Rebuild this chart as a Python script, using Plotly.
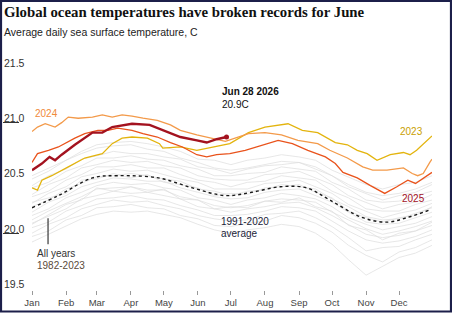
import plotly.graph_objects as go

# ---------------- data ----------------
month_days = [0, 31, 59, 90, 120, 151, 181, 212, 243, 273, 304, 334]
month_labels = ["Jan", "Feb", "Mar", "Apr", "May", "Jun", "Jul", "Aug", "Sep", "Oct", "Nov", "Dec"]

gray_days = [0, 15, 31, 45, 59, 74, 90, 105, 120, 135, 151, 166, 181, 196, 212, 227, 243, 258, 273, 288, 304, 319, 334, 349, 364]
gray_years = [
    [19.88, 19.95, 20.02, 20.09, 20.13, 20.16, 20.15, 20.16, 20.13, 20.10, 20.04, 19.99, 19.96, 19.99, 20.01, 20.04, 20.02, 19.96, 19.86, 19.72, 19.58, 19.66, 19.74, 19.78, 19.85],
    [19.93, 19.98, 20.08, 20.12, 20.19, 20.20, 20.22, 20.19, 20.18, 20.12, 20.09, 20.03, 20.02, 20.05, 20.07, 20.12, 20.10, 20.05, 19.97, 19.85, 19.76, 19.70, 19.79, 19.83, 19.90],
    [19.96, 20.04, 20.10, 20.18, 20.22, 20.26, 20.24, 20.25, 20.21, 20.18, 20.12, 20.09, 20.07, 20.08, 20.13, 20.14, 20.16, 20.10, 20.02, 19.92, 19.80, 19.83, 19.84, 19.90, 19.95],
    [20.01, 20.06, 20.16, 20.21, 20.27, 20.28, 20.30, 20.27, 20.26, 20.21, 20.17, 20.12, 20.12, 20.13, 20.16, 20.20, 20.19, 20.16, 20.07, 19.98, 19.90, 19.87, 19.89, 19.93, 19.99],
    [20.05, 20.11, 20.18, 20.27, 20.30, 20.34, 20.32, 20.33, 20.30, 20.27, 20.20, 20.18, 20.15, 20.18, 20.20, 20.23, 20.24, 20.19, 20.12, 20.04, 19.95, 19.92, 19.94, 19.98, 20.03],
    [20.08, 20.16, 20.23, 20.29, 20.36, 20.37, 20.38, 20.35, 20.35, 20.29, 20.26, 20.21, 20.19, 20.21, 20.25, 20.27, 20.26, 20.24, 20.15, 20.08, 20.00, 19.95, 19.98, 20.02, 20.07],
    [20.12, 20.18, 20.28, 20.33, 20.39, 20.42, 20.40, 20.41, 20.37, 20.35, 20.28, 20.26, 20.22, 20.26, 20.28, 20.32, 20.30, 20.27, 20.20, 20.10, 20.04, 19.99, 20.02, 20.05, 20.11],
    [20.15, 20.24, 20.30, 20.38, 20.42, 20.46, 20.45, 20.43, 20.43, 20.37, 20.33, 20.29, 20.27, 20.28, 20.33, 20.35, 20.36, 20.30, 20.24, 20.15, 20.06, 20.04, 20.05, 20.10, 20.15],
    [20.20, 20.26, 20.36, 20.41, 20.47, 20.48, 20.50, 20.48, 20.45, 20.43, 20.36, 20.34, 20.30, 20.34, 20.35, 20.40, 20.38, 20.36, 20.27, 20.20, 20.11, 20.08, 20.09, 20.14, 20.19],
    [20.23, 20.32, 20.38, 20.47, 20.50, 20.54, 20.52, 20.53, 20.49, 20.45, 20.42, 20.36, 20.36, 20.36, 20.41, 20.42, 20.44, 20.38, 20.32, 20.22, 20.16, 20.10, 20.14, 20.17, 20.23],
    [20.29, 20.34, 20.44, 20.49, 20.56, 20.56, 20.58, 20.55, 20.55, 20.49, 20.44, 20.42, 20.38, 20.42, 20.43, 20.48, 20.46, 20.44, 20.34, 20.28, 20.18, 20.16, 20.16, 20.22, 20.26],
    [20.31, 20.40, 20.46, 20.55, 20.58, 20.62, 20.60, 20.61, 20.57, 20.55, 20.48, 20.45, 20.44, 20.44, 20.49, 20.50, 20.52, 20.46, 20.40, 20.30, 20.24, 20.18, 20.22, 20.24, 20.31],
    [20.37, 20.42, 20.52, 20.57, 20.64, 20.64, 20.66, 20.63, 20.62, 20.57, 20.54, 20.48, 20.48, 20.50, 20.51, 20.56, 20.54, 20.52, 20.42, 20.36, 20.26, 20.24, 20.25, 20.30, 20.34],
    [20.39, 20.48, 20.54, 20.63, 20.66, 20.70, 20.68, 20.68, 20.65, 20.63, 20.56, 20.54, 20.50, 20.54, 20.57, 20.58, 20.60, 20.54, 20.48, 20.38, 20.32, 20.26, 20.30, 20.33, 20.40],
    [20.48, 20.55, 20.62, 20.68, 20.73, 20.75, 20.76, 20.72, 20.70, 20.64, 20.60, 20.55, 20.53, 20.55, 20.58, 20.61, 20.60, 20.56, 20.48, 20.40, 20.33, 20.30, 20.32, 20.36, 20.42],
    [20.45, 20.52, 20.62, 20.70, 20.76, 20.78, 20.79, 20.77, 20.74, 20.70, 20.63, 20.62, 20.58, 20.62, 20.64, 20.67, 20.65, 20.62, 20.53, 20.47, 20.40, 20.36, 20.40, 20.42, 20.48],
    [20.24, 20.28, 20.32, 20.44, 20.45, 20.50, 20.46, 20.49, 20.42, 20.40, 20.37, 20.30, 20.32, 20.31, 20.37, 20.38, 20.40, 20.33, 20.28, 20.16, 20.10, 20.06, 20.10, 20.12, 20.20],
    [20.04, 20.13, 20.22, 20.26, 20.37, 20.34, 20.38, 20.33, 20.36, 20.27, 20.26, 20.18, 20.20, 20.19, 20.25, 20.24, 20.28, 20.20, 20.16, 20.03, 19.99, 19.90, 19.96, 19.98, 20.06],
]

avg_days = [0, 24, 55, 78, 115, 146, 176, 200, 226, 250, 271, 301, 323, 341, 362]
avg_vals = [20.19, 20.30, 20.46, 20.48, 20.46, 20.37, 20.30, 20.33, 20.38, 20.37, 20.26, 20.10, 20.06, 20.10, 20.17]

y2023_days = [0, 5, 9, 18, 33, 48, 64, 73, 82, 91, 105, 116, 119, 135, 150, 165, 180, 197, 212, 233, 246, 260, 276, 287, 296, 305, 314, 326, 338, 344, 350, 364]
y2023_vals = [20.37, 20.35, 20.44, 20.48, 20.56, 20.64, 20.68, 20.77, 20.82, 20.83, 20.82, 20.77, 20.73, 20.74, 20.71, 20.74, 20.77, 20.87, 20.92, 20.95, 20.89, 20.87, 20.78, 20.76, 20.71, 20.68, 20.62, 20.67, 20.69, 20.67, 20.71, 20.84]

y2024_days = [0, 5, 12, 21, 27, 33, 42, 55, 64, 73, 82, 91, 101, 114, 126, 135, 150, 162, 176, 197, 212, 227, 242, 260, 271, 287, 301, 310, 323, 338, 346, 351, 356, 362, 364]
y2024_vals = [20.88, 20.92, 20.95, 20.92, 20.96, 21.01, 21.00, 21.01, 21.03, 21.01, 21.03, 21.02, 21.00, 20.98, 20.94, 20.89, 20.85, 20.82, 20.79, 20.86, 20.87, 20.85, 20.80, 20.77, 20.71, 20.64, 20.56, 20.53, 20.53, 20.55, 20.50, 20.48, 20.50, 20.60, 20.63]

y2025_days = [0, 5, 15, 24, 39, 48, 60, 69, 78, 91, 101, 114, 126, 137, 150, 159, 168, 180, 194, 212, 224, 237, 251, 267, 276, 283, 296, 308, 321, 332, 342, 349, 364]
y2025_vals = [20.60, 20.68, 20.71, 20.74, 20.82, 20.86, 20.89, 20.89, 20.91, 20.89, 20.86, 20.83, 20.78, 20.74, 20.67, 20.65, 20.67, 20.68, 20.71, 20.76, 20.80, 20.77, 20.71, 20.65, 20.59, 20.51, 20.46, 20.39, 20.32, 20.38, 20.44, 20.41, 20.51]

y2026_days = [0, 9, 16, 21, 27, 39, 55, 64, 73, 85, 91, 107, 119, 135, 150, 159, 168, 177]
y2026_vals = [20.53, 20.59, 20.65, 20.62, 20.67, 20.76, 20.87, 20.87, 20.92, 20.94, 20.95, 20.94, 20.89, 20.83, 20.80, 20.78, 20.81, 20.83]

y_ticks = [19.5, 20.0, 20.5, 21.0, 21.5]
y_tick_text = ["19.5", "20.0", "20.5", "21.0", "21.5"]

# ---------------- figure ----------------
W, H = 452, 313
ML, MR, MT, MB = 32, 20, 55, 23
PW, PH = W - ML - MR, H - MT - MB
YMIN, YMAX = 19.446, 21.572

def px(xp):
    return (xp - ML) / PW

def py(yp):
    return (H - MB - yp) / PH

fig = go.Figure()

for g in gray_years:
    fig.add_trace(go.Scatter(x=gray_days, y=g, mode="lines",
                             line=dict(color="#dddddd", width=0.7),
                             hoverinfo="skip", showlegend=False))

fig.add_trace(go.Scatter(x=avg_days, y=avg_vals, mode="lines",
                         line=dict(color="#1a1a1a", width=1.4, dash="3px,3px", shape="spline"),
                         showlegend=False))

fig.add_trace(go.Scatter(x=y2023_days, y=y2023_vals, mode="lines",
                         line=dict(color="#e3b40e", width=1.3), showlegend=False))
fig.add_trace(go.Scatter(x=y2025_days, y=y2025_vals, mode="lines",
                         line=dict(color="#e9531c", width=1.3), showlegend=False))
fig.add_trace(go.Scatter(x=y2024_days, y=y2024_vals, mode="lines",
                         line=dict(color="#f39a4a", width=1.3), showlegend=False))
fig.add_trace(go.Scatter(x=y2026_days, y=y2026_vals, mode="lines",
                         line=dict(color="#a3121f", width=2.4), showlegend=False))
fig.add_trace(go.Scatter(x=[y2026_days[-1]], y=[y2026_vals[-1]], mode="markers",
                         marker=dict(color="#a3121f", size=5), showlegend=False))

TXT = "Liberation Sans"
NARROW = "Liberation Sans Narrow, Liberation Sans"
ann = []
ann.append(dict(x=px(2), y=py(12), xref="paper", yref="paper", xanchor="left", yanchor="middle",
                text="<b>Global ocean temperatures have broken records for June</b>",
                font=dict(family="Liberation Serif", size=14.8, color="#111111"), showarrow=False))
ann.append(dict(x=px(2), y=py(32), xref="paper", yref="paper", xanchor="left", yanchor="middle",
                text="Average daily sea surface temperature, C",
                font=dict(family=TXT, size=10.5, color="#222222"), showarrow=False))
for v, t in zip(y_ticks, y_tick_text):
    ann.append(dict(x=px(1.5), y=v, xref="paper", yref="y", xanchor="left", yanchor="middle",
                    text=t, font=dict(family=NARROW, size=10.5, color="#333333"), showarrow=False))
ann.append(dict(x=1, y=21.045, xref="x", yref="y", xanchor="left", yanchor="middle",
                text="2024", font=dict(family=TXT, size=10, color="#f08a3a"), showarrow=False))
ann.append(dict(x=171, y=21.244, xref="x", yref="y", xanchor="left", yanchor="middle",
                text="<b>Jun 28 2026</b>", font=dict(family=TXT, size=10, color="#111111"), showarrow=False))
ann.append(dict(x=171, y=21.127, xref="x", yref="y", xanchor="left", yanchor="middle",
                text="20.9C", font=dict(family=TXT, size=10, color="#111111"), showarrow=False))
ann.append(dict(x=358, y=20.882, xref="x", yref="y", xanchor="right", yanchor="middle",
                text="2023", font=dict(family=TXT, size=10, color="#c9a000"), showarrow=False))
ann.append(dict(x=359, y=20.276, xref="x", yref="y", xanchor="right", yanchor="middle",
                text="2025", font=dict(family=TXT, size=10, color="#a3121f"), showarrow=False))
ann.append(dict(x=170, y=20.068, xref="x", yref="y", xanchor="left", yanchor="middle",
                text="1991-2020", font=dict(family=TXT, size=10, color="#1b1d3a"), showarrow=False))
ann.append(dict(x=170, y=19.959, xref="x", yref="y", xanchor="left", yanchor="middle",
                text="average", font=dict(family=TXT, size=10, color="#1b1d3a"), showarrow=False))
ann.append(dict(x=2.5, y=19.778, xref="x", yref="y", xanchor="left", yanchor="middle",
                text="All years", font=dict(family=TXT, size=10, color="#333333"), showarrow=False))
ann.append(dict(x=2.5, y=19.67, xref="x", yref="y", xanchor="left", yanchor="middle",
                text="1982-2023", font=dict(family=TXT, size=10, color="#5a4a3a"), showarrow=False))

shapes = [
    dict(type="line", xref="x", yref="y", x0=14.6, x1=14.6, y0=19.86, y1=20.095,
         line=dict(color="#111111", width=1)),
    dict(type="line", xref="paper", yref="paper", x0=px(3), x1=px(19), y0=py(122.5), y1=py(122.5),
         line=dict(color="#333333", width=1)),
    dict(type="line", xref="paper", yref="paper", x0=px(3), x1=px(19), y0=py(233.5), y1=py(233.5),
         line=dict(color="#333333", width=1)),
    dict(type="rect", xref="paper", yref="paper", x0=px(1), x1=px(W - 1), y0=py(H - 1.5), y1=py(1),
         line=dict(color="#1c1f4a", width=2.2), fillcolor="rgba(0,0,0,0)"),
]

fig.update_layout(
    width=W, height=H,
    margin=dict(l=ML, r=MR, t=MT, b=MB, autoexpand=False),
    paper_bgcolor="white", plot_bgcolor="white",
    annotations=ann, shapes=shapes,
    showlegend=False,
    xaxis=dict(range=[0, 364], tickvals=month_days, ticktext=month_labels,
               showgrid=False, zeroline=False, showline=False, automargin=False,
               ticks="outside", ticklen=4, tickcolor="#999999", tickwidth=0.8,
               ticklabelstandoff=0,
               tickfont=dict(family=TXT, size=9.5, color="#444444"), fixedrange=True),
    yaxis=dict(range=[YMIN, YMAX], showgrid=False, zeroline=False, showline=False,
               showticklabels=False, ticks="", automargin=False, fixedrange=True),
)

fig.write_html("out.html")
